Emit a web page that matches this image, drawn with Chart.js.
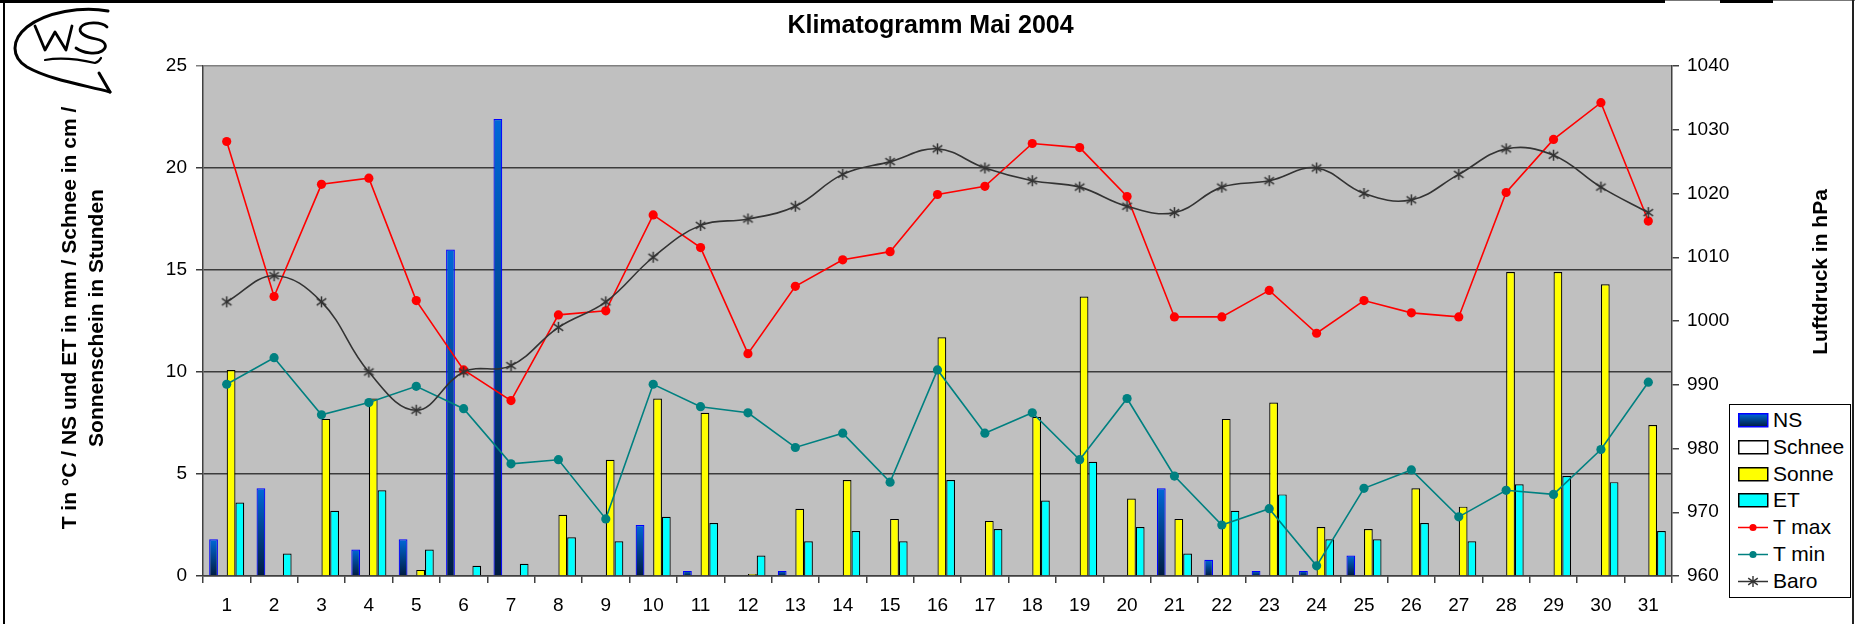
<!DOCTYPE html>
<html>
<head>
<meta charset="utf-8">
<script src="https://cdn.jsdelivr.net/npm/chart.js@4.4.1/dist/chart.umd.min.js"></script>
<style>
html,body{margin:0;padding:0;background:#fff;width:1861px;height:624px;overflow:hidden;font-family:"Liberation Sans",Arial,sans-serif;}
#c{position:absolute;left:0;top:0;}
.bar{position:absolute;}
.vt{position:absolute;transform:rotate(-90deg);transform-origin:50% 50%;text-align:center;font-weight:bold;color:#000;white-space:nowrap;}
#legend{position:absolute;left:1729px;top:404px;width:122px;height:194px;box-sizing:border-box;border:1px solid #000;background:#fff;}
.lrow{position:absolute;left:0;height:26px;width:120px;}
.lrow svg{position:absolute;left:8px;top:6px;}
.lrow span{position:absolute;left:43px;top:0;font-size:21px;line-height:26px;color:#000;white-space:nowrap;}
#logo{position:absolute;left:0;top:0;}
</style>
</head>
<body>
<canvas id="c" width="1861" height="624"></canvas>

<svg id="logo" width="140" height="110" viewBox="0 0 140 110">
  <g fill="none" stroke="#000" stroke-width="3" stroke-linecap="round" stroke-linejoin="round">
    <path d="M108,11 C82,6 46,12 27,27 C11,40 11,57 27,67 C50,80 84,85 110,92"/>
    <path d="M99,73 L110,92"/>
    <path d="M45,60 C62,57 82,60 95,63 C98,62 100,60 101,58" stroke-width="2.2"/>
    <path d="M35,26 L45,50 L55,32 L66,50 L72,26" stroke-width="2.8"/>
    <path d="M107,27 C101,21 85,22 81,27 C77,33 86,37 96,39 C106,41 108,47 102,51 C96,55 83,53 76,48" stroke-width="2.8"/>
  </g>
</svg>

<div class="bar" style="left:0;top:0;width:1665px;height:3px;background:#000;"></div>
<div class="bar" style="left:1665px;top:0;width:55px;height:1px;background:#777;"></div>
<div class="bar" style="left:1720px;top:0;width:53px;height:3px;background:#000;"></div>
<div class="bar" style="left:1773px;top:0;width:82px;height:1px;background:#777;"></div>
<div class="bar" style="left:3px;top:0;width:2px;height:624px;background:#000;"></div>
<div class="bar" style="left:1852px;top:0;width:2px;height:624px;background:#222;"></div>

<div id="ytitleL" class="vt" style="left:-148px;top:291px;width:460px;height:54px;font-size:21px;line-height:27px;"></div>
<div id="ytitleR" class="vt" style="left:1700px;top:258px;width:240px;height:28px;font-size:21px;line-height:28px;"></div>

<div id="legend"></div>

<script>
// ---------- data ----------
const days = ["1","2","3","4","5","6","7","8","9","10","11","12","13","14","15","16","17","18","19","20","21","22","23","24","25","26","27","28","29","30","31"];
const ns     = [1.8, 4.3, null, 1.3, 1.8, 16.0, 22.4, null, null, 2.5, 0.25, null, 0.25, null, null, null, null, null, null, null, 4.3, 0.8, 0.25, 0.25, 1.0, null, null, null, null, null, null];
const schnee = [null,null,null,null,null,null,null,null,null,null,null,null,null,null,null,null,null,null,null,null,null,null,null,null,null,null,null,null,null,null,null];
const sonne  = [10.1, null, 7.7, 8.7, 0.3, null, null, 3.0, 5.7, 8.7, 8.0, 0.1, 3.3, 4.7, 2.8, 11.7, 2.7, 7.8, 13.7, 3.8, 2.8, 7.7, 8.5, 2.4, 2.3, 4.3, 3.4, 14.9, 14.9, 14.3, 7.4];
const et     = [3.6, 1.1, 3.2, 4.2, 1.3, 0.5, 0.6, 1.9, 1.7, 2.9, 2.6, 1.0, 1.7, 2.2, 1.7, 4.7, 2.3, 3.7, 5.6, 2.4, 1.1, 3.2, 4.0, 1.8, 1.8, 2.6, 1.7, 4.5, 4.9, 4.6, 2.2];
const tmax   = [21.3, 13.7, 19.2, 19.5, 13.5, 10.1, 8.6, 12.8, 13.0, 17.7, 16.1, 10.9, 14.2, 15.5, 15.9, 18.7, 19.1, 21.2, 21.0, 18.6, 12.7, 12.7, 14.0, 11.9, 13.5, 12.9, 12.7, 18.8, 21.4, 23.2, 17.4];
const tmin   = [9.4, 10.7, 7.9, 8.5, 9.3, 8.2, 5.5, 5.7, 2.8, 9.4, 8.3, 8.0, 6.3, 7.0, 4.6, 10.1, 7.0, 8.0, 5.7, 8.7, 4.9, 2.5, 3.3, 0.5, 4.3, 5.2, 2.9, 4.2, 4.0, 6.2, 9.5];
const baro   = [1003, 1007.1, 1003, 992, 986, 992, 993, 999, 1003, 1010, 1015, 1016, 1018, 1023, 1025, 1027, 1024, 1022, 1021, 1018, 1017, 1021, 1022, 1024, 1020, 1019, 1023, 1027, 1026, 1021, 1017];
const seriesNames = ["NS", "Schnee", "Sonne", "ET", "T max", "T min", "Baro"];
const leftTicks = [0, 5, 10, 15, 20, 25];
const rightTicks = [960, 970, 980, 990, 1000, 1010, 1020, 1030, 1040];
const chartTitle = "Klimatogramm Mai 2004";
const leftTitle = ["T in °C / NS und ET in mm / Schnee in cm /", "Sonnenschein in Stunden"];
const rightTitle = "Luftdruck in hPa";

// ---------- titles ----------
document.getElementById('ytitleL').innerHTML = leftTitle.join('<br>');
document.getElementById('ytitleR').textContent = rightTitle;

// ---------- star marker ----------
function makeStar(color, size) {
  const cv = document.createElement('canvas');
  cv.width = size; cv.height = size;
  const g = cv.getContext('2d');
  g.strokeStyle = color; g.lineWidth = 1.5;
  const c = size / 2, r = size / 2 - 1;
  g.beginPath();
  g.moveTo(c, c - r); g.lineTo(c, c + r);
  g.moveTo(c - r * 0.87, c - r * 0.6); g.lineTo(c + r * 0.87, c + r * 0.6);
  g.moveTo(c - r * 0.87, c + r * 0.6); g.lineTo(c + r * 0.87, c - r * 0.6);
  g.stroke();
  return cv;
}
const starImg = makeStar('#333333', 13);

const FONT = '"Liberation Sans", Arial, sans-serif';

function nsGradient(ctx) {
  const ch = ctx.chart;
  if (!ch.chartArea || ctx.type !== 'data' || ctx.raw == null) return '#0050B0';
  const ys = ch.scales.y;
  const top = ys.getPixelForValue(ctx.raw), bot = ys.getPixelForValue(0);
  if (!isFinite(top) || !isFinite(bot) || top === bot) return '#0050B0';
  const g = ch.ctx.createLinearGradient(0, top, 0, bot);
  g.addColorStop(0, '#0068D8');
  g.addColorStop(1, '#001C40');
  return g;
}

const plotBg = {
  id: 'plotBg',
  beforeDraw(chart) {
    const a = chart.chartArea, c = chart.ctx;
    c.save();
    c.fillStyle = '#C0C0C0';
    c.fillRect(a.left, a.top, a.right - a.left, a.bottom - a.top);
    c.restore();
  }
};

const barCommon = { type: 'bar', order: 5, borderWidth: 1.2, categoryPercentage: 0.74, barPercentage: 1.0, yAxisID: 'y' };

new Chart(document.getElementById('c'), {
  type: 'bar',
  data: {
    labels: days,
    datasets: [
      Object.assign({ label: seriesNames[0], data: ns, backgroundColor: nsGradient, borderColor: '#0000FF' }, barCommon),
      Object.assign({ label: seriesNames[1], data: schnee, backgroundColor: '#FFFFFF', borderColor: '#000000' }, barCommon),
      Object.assign({ label: seriesNames[2], data: sonne, backgroundColor: '#FFFF00', borderColor: '#000000' }, barCommon),
      Object.assign({ label: seriesNames[3], data: et, backgroundColor: '#00FFFF', borderColor: '#000000' }, barCommon),
      { type: 'line', label: seriesNames[4], data: tmax, yAxisID: 'y', order: 1, borderColor: '#FF0000', backgroundColor: '#FF0000', borderWidth: 1.6, pointRadius: 4.6, pointStyle: 'circle', pointBorderWidth: 0, tension: 0, fill: false },
      { type: 'line', label: seriesNames[5], data: tmin, yAxisID: 'y', order: 2, borderColor: '#008080', backgroundColor: '#008080', borderWidth: 1.6, pointRadius: 4.6, pointStyle: 'circle', pointBorderWidth: 0, tension: 0, fill: false },
      { type: 'line', label: seriesNames[6], data: baro, yAxisID: 'y2', order: 0, borderColor: '#333333', backgroundColor: '#333333', borderWidth: 1.6, pointRadius: 6, pointStyle: starImg, tension: 0.4, fill: false }
    ]
  },
  options: {
    responsive: false,
    animation: false,
    devicePixelRatio: 1,
    layout: { padding: 0 },
    plugins: {
      legend: { display: false },
      tooltip: { enabled: false },
      title: { display: true, text: chartTitle, color: '#000', font: { family: FONT, size: 25, weight: 'bold' }, padding: { top: 11, bottom: 25 } }
    },
    scales: {
      x: {
        offset: true,
        grid: { offset: true, drawOnChartArea: false, drawTicks: true, tickLength: 7, color: '#404040', lineWidth: 1.5 },
        border: { display: true, color: '#404040', width: 1.5 },
        ticks: { color: '#000', font: { family: FONT, size: 19 }, padding: 11, maxRotation: 0, autoSkip: false },
        afterFit(s) { s.height = 48; }
      },
      y: {
        position: 'left', min: leftTicks[0], max: leftTicks[leftTicks.length - 1],
        afterBuildTicks(s) { s.ticks = leftTicks.map(v => ({ value: v })); },
        ticks: { color: '#000', font: { family: FONT, size: 19 }, padding: 9, callback: v => String(v) },
        grid: { color: c => (c.tick && c.tick.value === 25 ? '#808080' : '#3C3C3C'), lineWidth: 1.5, tickLength: 7, drawTicks: true },
        border: { display: true, color: '#404040', width: 1.5 },
        afterFit(s) { s.width = 203; }
      },
      y2: {
        position: 'right', min: rightTicks[0], max: rightTicks[rightTicks.length - 1],
        afterBuildTicks(s) { s.ticks = rightTicks.map(v => ({ value: v })); },
        ticks: { color: '#000', font: { family: FONT, size: 19 }, padding: 8, callback: v => String(v) },
        grid: { drawOnChartArea: false, drawTicks: true, tickLength: 7, color: '#404040', lineWidth: 1.5 },
        border: { display: true, color: '#404040', width: 1.5 },
        afterFit(s) { s.width = 189; }
      }
    }
  },
  plugins: [plotBg]
});

// ---------- legend (HTML) ----------
const legendSw = [
  '<svg width="31" height="15"><defs><linearGradient id="gns" x1="0" y1="0" x2="0" y2="1"><stop offset="0" stop-color="#0068D8"/><stop offset="1" stop-color="#001C40"/></linearGradient></defs><rect x="0.75" y="0.75" width="29" height="13" fill="url(#gns)" stroke="#0000FF" stroke-width="1.5"/></svg>',
  '<svg width="31" height="15"><rect x="0.75" y="0.75" width="29" height="13" fill="#FFFFFF" stroke="#000" stroke-width="1.5"/></svg>',
  '<svg width="31" height="15"><rect x="0.75" y="0.75" width="29" height="13" fill="#FFFF00" stroke="#000" stroke-width="1.5"/></svg>',
  '<svg width="31" height="15"><rect x="0.75" y="0.75" width="29" height="13" fill="#00FFFF" stroke="#000" stroke-width="1.5"/></svg>',
  '<svg width="31" height="15"><line x1="0" y1="7.5" x2="30" y2="7.5" stroke="#FF0000" stroke-width="1.5"/><circle cx="15" cy="7.5" r="3.6" fill="#FF0000"/></svg>',
  '<svg width="31" height="15"><line x1="0" y1="7.5" x2="30" y2="7.5" stroke="#008080" stroke-width="1.5"/><circle cx="15" cy="7.5" r="3.6" fill="#008080"/></svg>',
  '<svg width="31" height="15"><line x1="0" y1="7.5" x2="30" y2="7.5" stroke="#333" stroke-width="1.5"/><g stroke="#333" stroke-width="1.4"><line x1="15" y1="2" x2="15" y2="13"/><line x1="10.2" y1="4.2" x2="19.8" y2="10.8"/><line x1="10.2" y1="10.8" x2="19.8" y2="4.2"/></g></svg>'
];
const leg = document.getElementById('legend');
seriesNames.forEach((n, i) => {
  const row = document.createElement('div');
  row.className = 'lrow';
  row.style.top = (2 + i * 26.8) + 'px';
  row.innerHTML = legendSw[i] + '<span>' + n + '</span>';
  leg.appendChild(row);
});
</script>
</body>
</html>
